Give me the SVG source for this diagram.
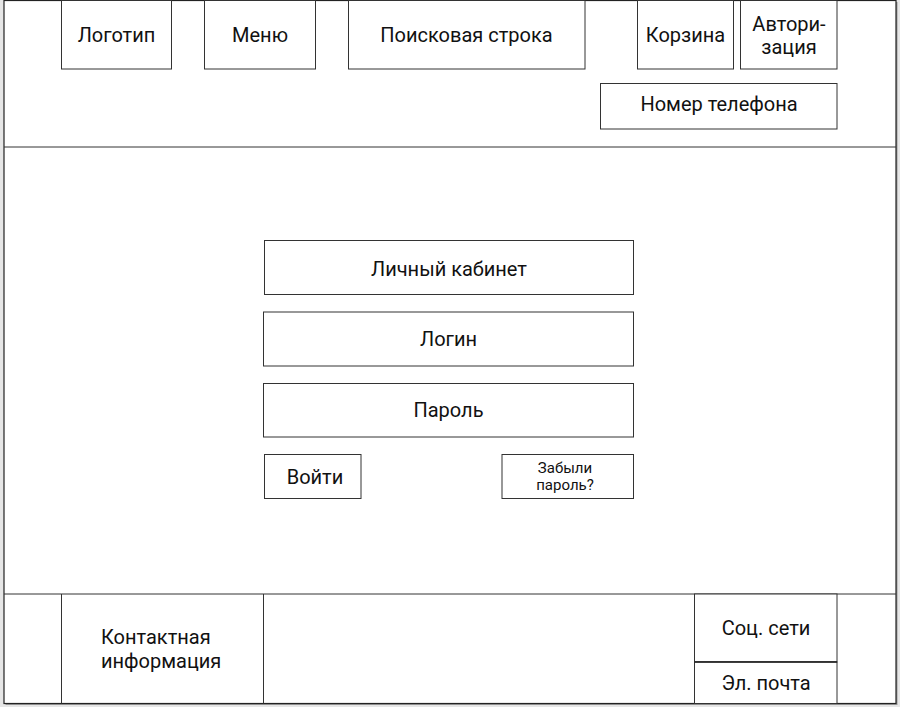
<svg xmlns="http://www.w3.org/2000/svg" width="900" height="707" viewBox="0 0 900 707">
<style>
.bx{fill:#fff;stroke:#333;stroke-width:1}
.ln{stroke:#333;stroke-width:1;fill:none}
.t{font-family:Roboto,"Liberation Sans",sans-serif;font-size:20px;fill:#111;text-anchor:middle}
.s{font-size:15px}
.l{text-anchor:start}
</style>
<rect x="0" y="0" width="900" height="707" fill="#e6e6e6"/>
<rect x="5.5" y="2" width="892" height="703" fill="#999"/>
<g id="frame"><rect x="4" y="0.5" width="892" height="703" fill="#fff" stroke="#222" stroke-width="1.2"/></g>
<g id="dividers">
<line class="ln" x1="4" y1="147" x2="896" y2="147"/>
<line class="ln" x1="4" y1="594" x2="896" y2="594"/>
</g>
<g id="logo"><rect class="bx" x="61.5" y="0.5" width="110" height="68.5"/><text class="t" x="116.5" y="41.5">Логотип</text></g>
<g id="menu"><rect class="bx" x="204.5" y="0.5" width="111" height="68.5"/><text class="t" x="260" y="41.5">Меню</text></g>
<g id="search"><rect class="bx" x="348.5" y="0.5" width="236.5" height="68.5"/><text class="t" x="466.5" y="41.5">Поисковая строка</text></g>
<g id="cart"><rect class="bx" x="637.5" y="0.5" width="96" height="68.5"/><text class="t" x="685.5" y="41.5">Корзина</text></g>
<g id="auth"><rect class="bx" x="740.5" y="0.5" width="96.5" height="68.5"/><text class="t" x="789" y="30.5">Автори-</text><text class="t" x="789" y="54">зация</text></g>
<g id="phone"><rect class="bx" x="600.5" y="83.5" width="236.5" height="45.5"/><text class="t" x="719" y="111">Номер телефона</text></g>
<g id="cabinet"><rect class="bx" x="264.5" y="240.5" width="369" height="54"/><text class="t" x="449" y="275.5">Личный кабинет</text></g>
<g id="login"><rect class="bx" x="263.5" y="312" width="370" height="54"/><text class="t" x="448.5" y="346">Логин</text></g>
<g id="password"><rect class="bx" x="263.5" y="383.5" width="370" height="53.5"/><text class="t" x="448.5" y="416.5">Пароль</text></g>
<g id="enter"><rect class="bx" x="264.5" y="454.5" width="96.5" height="44"/><text class="t" x="315" y="484">Войти</text></g>
<g id="forgot"><rect class="bx" x="502" y="454.5" width="131.5" height="44"/><text class="t s" x="565" y="473">Забыли</text><text class="t s" x="565" y="490">пароль?</text></g>
<g id="contacts"><line class="ln" x1="61.5" y1="594" x2="61.5" y2="703.5"/><line class="ln" x1="263.5" y1="594" x2="263.5" y2="703.5"/><text class="t l" x="101" y="644">Контактная</text><text class="t l" x="101" y="668">информация</text></g>
<g id="social"><rect class="bx" x="694.5" y="594" width="142.5" height="68"/><text class="t" x="766" y="635">Соц. сети</text></g>
<g id="email"><rect class="bx" x="694.5" y="662" width="142.5" height="41.5"/><line x1="694.5" y1="662" x2="837" y2="662" stroke="#222" stroke-width="1.5"/><text class="t" x="766" y="690">Эл. почта</text></g>
</svg>
